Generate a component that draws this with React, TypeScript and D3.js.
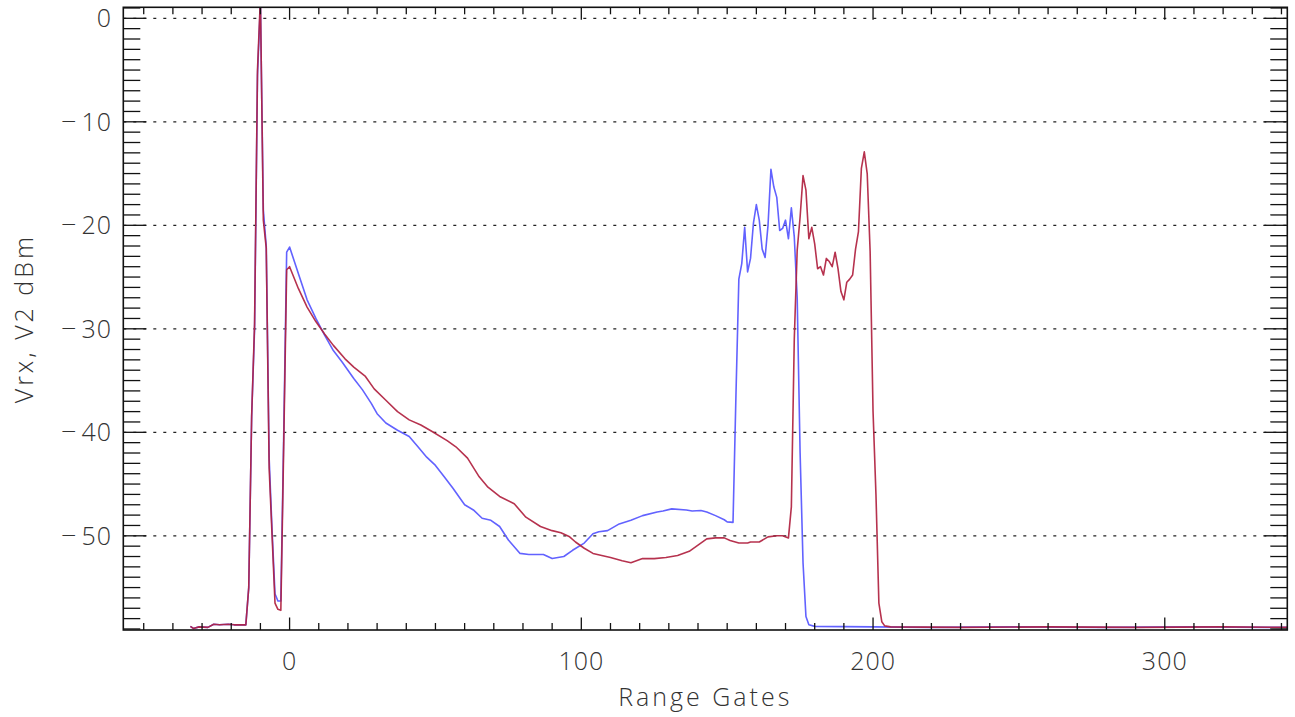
import React from "react";
import * as d3 from "d3";

// [range gate, dBm]
const blueSeries: [number, number][] = [
  [-34, -58.75], [-33, -58.95], [-31, -58.8], [-28, -58.85], [-26, -58.55], [-24, -58.6], [-21, -58.55], [-19, -58.6], [-17, -58.6], [-15, -58.6],
  [-14, -55.0], [-13, -38.5], [-12, -30], [-11, -5.5], [-10, 1.5], [-9, -18.5], [-8, -22.0], [-7, -42.5], [-6, -49.5], [-5, -55.6], [-4, -56.3], [-3, -56.3], [-2, -40], [-1, -22.6], [0, -22.1],
  [3, -24.65], [6, -27.2], [9, -29.0], [12, -30.6], [15, -32.1], [18, -33.2], [22, -34.8], [25, -35.9], [28, -37.2], [30, -38.2], [33, -39.1], [37, -39.8], [41, -40.4], [44, -41.4], [47, -42.4], [50, -43.2], [53, -44.3], [56, -45.4], [60, -47.0], [63, -47.5], [66, -48.3], [69, -48.5], [72, -49.1], [75, -50.4], [79, -51.7], [82, -51.8], [87, -51.8], [90, -52.2], [94, -52.0], [97, -51.4], [101, -50.7], [104, -49.8], [106, -49.6], [109, -49.5], [113, -48.85], [117, -48.5], [121, -48.05], [126, -47.7], [128, -47.6], [131, -47.4], [136, -47.5], [138, -47.6], [141, -47.55], [143, -47.7], [146, -48.05], [149, -48.45], [150, -48.65], [152, -48.7],
  [153, -36.5], [154, -25.2], [155, -23.7], [156, -20.2], [157, -24.5], [158, -23.2], [159, -19.8], [160, -18.0], [161, -19.5], [162, -22.3], [163, -23.1], [164, -20.0], [165, -14.6], [166, -16.3], [167, -17.3], [168, -20.5], [169, -20.3], [170, -19.5], [171, -21.3], [172, -18.3], [173, -21.1], [174, -27], [175, -42], [176, -52.6], [177, -57.8], [178, -58.6], [180, -58.75],
  [200, -58.8], [220, -58.85], [250, -58.8], [280, -58.85], [310, -58.8], [342, -58.85],
];

const redSeries: [number, number][] = [
  [-34, -58.75], [-33, -58.95], [-31, -58.8], [-28, -58.85], [-26, -58.55], [-24, -58.6], [-21, -58.55], [-19, -58.6], [-17, -58.6], [-15, -58.6],
  [-14, -55.0], [-13, -38.4], [-12, -29.5], [-11, -5.0], [-10, 2.0], [-9, -19.5], [-8, -22.2], [-7, -43.5], [-6, -50.0], [-5, -56.5], [-4, -57.1], [-3, -57.2], [-2, -41], [-1, -24.3], [0, -24.0],
  [3, -26.1], [6, -27.9], [9, -29.3], [12, -30.5], [15, -31.6], [19, -32.9], [22, -33.7], [26, -34.6], [29, -35.8], [33, -36.9], [37, -38.0], [41, -38.8], [45, -39.3], [49, -39.95], [54, -40.8], [57, -41.4], [61, -42.5], [65, -44.3], [68, -45.3], [72, -46.2], [77, -46.9], [81, -48.2], [86, -49.1], [90, -49.5], [93, -49.7], [96, -50.1], [98, -50.6], [101, -51.2], [104, -51.7], [110, -52.1], [114, -52.4], [117, -52.6], [121, -52.2], [125, -52.2], [129, -52.1], [133, -51.9], [137, -51.5], [140, -50.9], [143, -50.3], [146, -50.2], [149, -50.2], [151, -50.45], [154, -50.7], [157, -50.7], [158, -50.6], [161, -50.6], [164, -50.1], [167, -50.0], [169, -50.0], [171, -50.2],
  [172, -47.2], [173, -31], [174, -22.4], [175, -19.2], [176, -15.2], [177, -16.6], [178, -21.3], [179, -20.2], [180, -21.8], [181, -24.2], [182, -24.0], [183, -24.8], [184, -23.2], [185, -23.5], [186, -24.0], [187, -22.6], [188, -24.2], [189, -26.4], [190, -27.2], [191, -25.5], [192, -25.2], [193, -24.8], [194, -22.3], [195, -20.6], [196, -14.5], [197, -12.9], [198, -15.0], [199, -22.5], [200, -38], [201, -46], [202, -56.5], [203, -58.3], [204, -58.7], [206, -58.8],
  [230, -58.85], [260, -58.8], [290, -58.85], [320, -58.8], [342, -58.85],
];

const xMajorTicks = [0, 100, 200, 300];
const yMajorTicks = [0, -10, -20, -30, -40, -50];
const xTitle = "Range Gates";
const yTitle = "Vrx, V2 dBm";

const W = 1295;
const H = 717;
const L = 123.3, R = 1287.3, T = 7.3, B = 630;

export default function App() {
  const x = d3.scaleLinear().domain([-57, 342]).range([L, R]);
  const y = d3.scaleLinear().domain([-59.1, 1.063]).range([B, T]);
  const line = d3.line<[number, number]>().x((d) => x(d[0])).y((d) => y(d[1]));

  const xMinor = d3.range(-50, 341, 10).filter((v) => !xMajorTicks.includes(v));
  const yMinor = d3.range(-59, 2, 1).filter((v) => !yMajorTicks.includes(v) && v <= 1);

  const font = "'Open Sans', 'DejaVu Sans', sans-serif";

  return (
    <svg width={W} height={H} style={{ position: "absolute", left: 0, top: 0, background: "#fff" }} fontFamily={font}>
      <defs>
        <clipPath id="plotclip">
          <rect x={L} y={T} width={R - L} height={B - T} />
        </clipPath>
      </defs>
      <rect x={0} y={0} width={W} height={H} fill="#fff" />
      {/* grid */}
      {yMajorTicks.map((v) => (
        <line key={"g" + v} x1={L} x2={R} y1={y(v)} y2={y(v)} stroke="#222" strokeWidth={1.3} strokeDasharray="3,7" />
      ))}
      {/* data */}
      <g clipPath="url(#plotclip)" fill="none" strokeLinejoin="round">
        <path d={line(blueSeries) || ""} stroke="#6262ff" strokeWidth={1.6} />
        <path d={line(redSeries) || ""} stroke="#b0213f" strokeWidth={1.6} strokeOpacity={0.92} />
      </g>
      {/* ticks */}
      <g stroke="#111" strokeWidth={1.3}>
        {yMinor.map((v) => (
          <g key={"ym" + v}>
            <line x1={L} x2={L + 17} y1={y(v)} y2={y(v)} />
            <line x1={R} x2={R - 17} y1={y(v)} y2={y(v)} />
          </g>
        ))}
        {yMajorTicks.map((v) => (
          <g key={"yM" + v}>
            <line x1={L} x2={L + 23} y1={y(v)} y2={y(v)} />
            <line x1={R} x2={R - 23} y1={y(v)} y2={y(v)} />
          </g>
        ))}
        {xMinor.map((v) => (
          <g key={"xm" + v}>
            <line x1={x(v)} x2={x(v)} y1={B} y2={B - 7} />
            <line x1={x(v)} x2={x(v)} y1={T} y2={T + 7} />
          </g>
        ))}
        {xMajorTicks.map((v) => (
          <g key={"xM" + v}>
            <line x1={x(v)} x2={x(v)} y1={B} y2={B - 12.5} />
            <line x1={x(v)} x2={x(v)} y1={T} y2={T + 12.5} />
          </g>
        ))}
      </g>
      {/* frame */}
      <rect x={L} y={T} width={R - L} height={B - T} fill="none" stroke="#111" strokeWidth={1.6} />
      {/* labels */}
      <g fill="#333" fontSize={25} fontWeight={300}>
        {yMajorTicks.map((v) => (
          <text key={"yl" + v} x={112} y={y(v) + 9} textAnchor="end" letterSpacing={1}>
            {v < 0 ? (
              <>
                <tspan fontSize={27}>{"\u2212"}</tspan>
                <tspan dx={4}>{String(Math.abs(v))}</tspan>
              </>
            ) : (
              String(v)
            )}
          </text>
        ))}
        {xMajorTicks.map((v) => (
          <text key={"xl" + v} x={x(v)} y={670} textAnchor="middle" letterSpacing={1}>
            {String(v)}
          </text>
        ))}
        <text x={(L + R) / 2} y={706} textAnchor="middle" letterSpacing={3}>
          {xTitle}
        </text>
        <text transform={`translate(33, ${(T + B) / 2}) rotate(-90)`} textAnchor="middle" letterSpacing={3}>
          {yTitle}
        </text>
      </g>
    </svg>
  );
}
